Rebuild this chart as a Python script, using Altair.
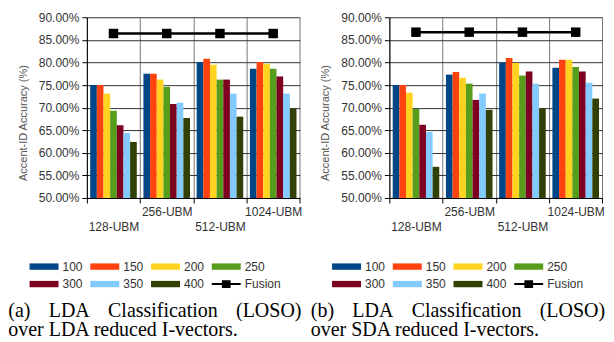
import altair as alt
import pandas as pd

groups = ["128-UBM", "256-UBM", "512-UBM", "1024-UBM"]
series = ["100", "150", "200", "250", "300", "350", "400"]
colors = ["#004586", "#ff420e", "#ffd320", "#579d1c", "#7e0021", "#83caff", "#314004"]

# Panel (a): LDA reduced I-vectors, accuracy (%) per series across UBM sizes
lda_vals = {
    "100": [75.0, 77.5, 80.1, 78.6],
    "150": [75.0, 77.5, 80.8, 80.1],
    "200": [73.1, 76.2, 79.5, 79.7],
    "250": [69.3, 74.6, 76.2, 78.6],
    "300": [66.1, 70.8, 76.2, 76.9],
    "350": [64.4, 71.1, 73.1, 73.1],
    "400": [62.4, 67.7, 68.0, 69.8],
}
lda_fusion = [86.4, 86.4, 86.4, 86.4]

# Panel (b): SDA reduced I-vectors
sda_vals = {
    "100": [75.0, 77.3, 80.0, 78.8],
    "150": [75.0, 77.9, 81.0, 80.6],
    "200": [73.3, 76.6, 79.9, 80.6],
    "250": [69.7, 75.3, 77.1, 79.0],
    "300": [66.2, 71.7, 78.0, 78.0],
    "350": [64.6, 73.1, 75.3, 75.5],
    "400": [56.9, 69.5, 69.8, 72.0],
}
sda_fusion = [86.7, 86.7, 86.7, 86.7]

y_ticks = [50, 55, 60, 65, 70, 75, 80, 85, 90]
legend_items = series + ["Fusion"]
legend_colors = colors + ["black"]
legend_kinds = ["bar"] * 7 + ["line"]

GAP = "\u00a0" * 3 + "\u2006"
caption_a = ["(a)" + GAP + "LDA" + GAP + "Classification" + GAP + "(LOSO)",
             "over LDA reduced I-vectors."]
caption_b = ["(b)" + GAP + "LDA" + GAP + "Classification" + GAP + "(LOSO)",
             "over SDA reduced I-vectors."]

RECT_PATH = "M-1,-0.22H1V0.22H-1Z"
FUSION_PATH = "M-1,-0.07H1V0.07H-1Z M-0.3,-0.27H0.3V0.27H-0.3Z"

SANS = "Liberation Sans"
LEG_SHIFT = -42.9


def panel(vals, fusion, caption):
    df = pd.DataFrame(
        [{"group": g, "series": s, "value": vals[s][i]}
         for s in series for i, g in enumerate(groups)]
    )
    fdf = pd.DataFrame({"group": groups, "value": fusion})

    x_axis = alt.Axis(
        title=None, labelAngle=0, tickBand="extent", tickSize=5,
        tickColor="black", domainColor="black", grid=True,
        gridColor="#777", gridWidth=1,
        labelExpr="(datum.value == '128-UBM' || datum.value == '512-UBM') ? ['', datum.label] : datum.label",
        labelLineHeight=14.5, labelPadding=4, labelBaseline="top",
    )
    y_axis = alt.Axis(
        values=y_ticks, labelExpr="format(datum.value, '.2f') + '%'",
        labelOverlap=False,
        title="Accent-ID Accuracy (%)", tickSize=5, tickColor="black",
        domainColor="black", gridColor="#333", gridWidth=1,
        titleFontSize=11, titleColor="#555", titleFontWeight="normal",
        titlePadding=10, labelPadding=3, titleY=105.5, titleAlign="center",
    )
    x_scale = alt.Scale(paddingInner=0, paddingOuter=0)
    y_scale = alt.Scale(domain=[50, 90], nice=False, zero=False)

    bars = alt.Chart(df).mark_bar().encode(
        x=alt.X("group:N", sort=groups, axis=x_axis, scale=x_scale),
        xOffset=alt.XOffset("series:N", sort=series,
                            scale=alt.Scale(paddingInner=0, paddingOuter=0.5)),
        y=alt.Y("value:Q", axis=y_axis, scale=y_scale),
        y2=alt.datum(50),
        color=alt.Color("series:N", scale=alt.Scale(domain=series, range=colors),
                        legend=None),
    )
    line = alt.Chart(fdf).mark_line(
        color="black", strokeWidth=2.5,
        point=alt.OverlayMarkDef(shape="square", size=90, filled=True,
                                 color="black", opacity=1),
    ).encode(
        x=alt.X("group:N", sort=groups, axis=x_axis, scale=x_scale),
        y=alt.Y("value:Q", axis=y_axis, scale=y_scale),
    )

    plot = alt.layer(bars, line).properties(width=213.3, height=181)

    ldf = pd.DataFrame({
        "item": legend_items,
        "kind": legend_kinds,
        "row": [i // 4 for i in range(len(legend_items))],
        "col": [i % 4 for i in range(len(legend_items))],
    })
    lx = alt.X("col:Q", axis=None, scale=alt.Scale(domain=[0, 3], nice=False, zero=False))
    ly = alt.Y("row:O", axis=None, scale=alt.Scale(paddingInner=0, paddingOuter=0))
    sym = alt.Chart(ldf).mark_point(filled=True, opacity=1, strokeWidth=0,
                                    xOffset=LEG_SHIFT).encode(
        x=lx, y=ly,
        shape=alt.Shape("kind:N", scale=alt.Scale(domain=["bar", "line"],
                                                   range=[RECT_PATH, FUSION_PATH]),
                        legend=None),
        fill=alt.Fill("item:N", scale=alt.Scale(domain=legend_items, range=legend_colors),
                      legend=None),
        size=alt.value(841),
    )
    txt = alt.Chart(ldf).mark_text(align="left", baseline="middle", font=SANS,
                                   fontSize=12, color="#333",
                                   xOffset=LEG_SHIFT + 18.5).encode(
        x=lx, y=ly, text="item:N")
    legend = alt.layer(sym, txt).properties(width=182.5, height=35)

    return alt.vconcat(
        plot, legend, spacing=25,
        title=alt.TitleParams(
            text=caption, orient="bottom", anchor="start", font="Liberation Serif",
            fontSize=20, fontWeight="normal", color="black", lineHeight=19.5,
            baseline="alphabetic", offset=24, dx=-9,
        ),
    ).resolve_scale(color="independent", fill="independent", shape="independent")


chart = alt.hconcat(
    panel(lda_vals, lda_fusion, caption_a),
    panel(sda_vals, sda_fusion, caption_b),
    spacing=8,
).resolve_scale(color="independent", fill="independent", shape="independent").properties(
    padding={"left": 0, "top": 3, "right": 0, "bottom": 0}
).configure_view(stroke=None).configure_axis(
    labelFont=SANS, labelFontSize=12, labelColor="#333", titleFont=SANS,
)

chart.save("out.html", embed_options={"renderer": "svg", "actions": False})
